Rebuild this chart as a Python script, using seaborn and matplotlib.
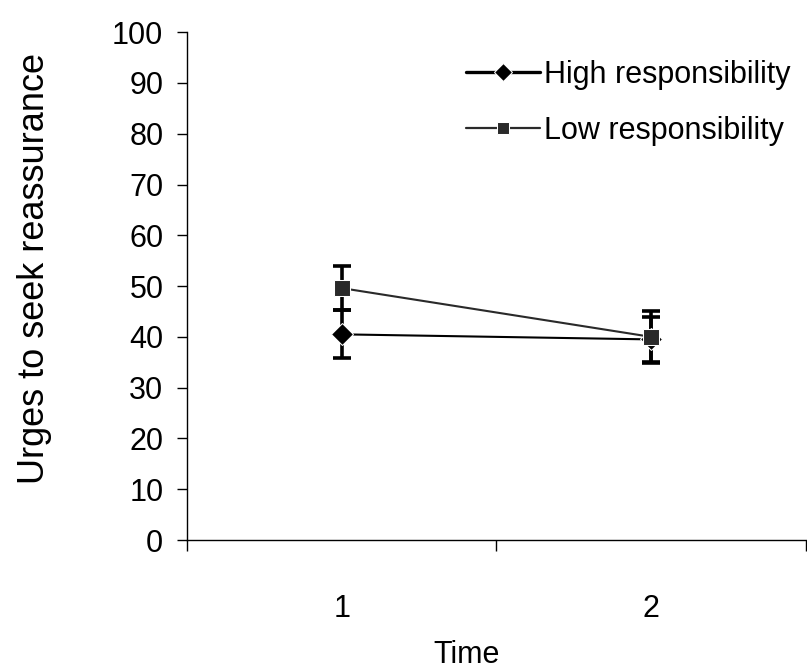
import numpy as np
import pandas as pd
import seaborn as sns
from matplotlib import pyplot as plt
from matplotlib.ticker import FixedLocator

# values
times = [1, 2]
groups = ['High responsibility', 'Low responsibility']
high_mean = [40.5, 39.5]
high_err = [4.7, 4.4]
low_mean = [49.6, 40.0]
low_err = [4.4, 5.1]

df = pd.DataFrame({
    'Time': times + times,
    'score': high_mean + low_mean,
    'err': high_err + low_err,
    'group': [groups[0]] * 2 + [groups[1]] * 2,
})

sns.set_style('ticks')
plt.rcParams['font.family'] = ['Liberation Sans', 'DejaVu Sans']
for k in ['text.color', 'axes.labelcolor', 'xtick.color', 'ytick.color']:
    plt.rcParams[k] = 'black'

fig = plt.figure(figsize=(8.07, 6.70), dpi=100)
ax = fig.add_axes([0.2317, 0.194, 0.767, 0.758])

# error bars first so the markers sit on top
for g in groups:
    sub = df[df['group'] == g]
    ax.errorbar(sub['Time'], sub['score'], yerr=sub['err'], fmt='none',
                ecolor='black', elinewidth=2.6, capsize=6.5, capthick=2.6, zorder=2)

sns.lineplot(data=df, x='Time', y='score', hue='group', style='group',
             palette=['black', '#2a2a2a'], markers={groups[0]: 'D', groups[1]: 's'},
             dashes=False, markersize=11, ax=ax, zorder=3)

# line thickness per series (high is heavier)
lines = [l for l in ax.get_lines() if len(l.get_xdata()) == 2]
lines[0].set_linewidth(2.4)
lines[1].set_linewidth(1.6)

ax.set_xlim(0.5, 2.5)
ax.set_ylim(0, 100)
ax.set_yticks(np.arange(0, 101, 10))
ax.xaxis.set_major_locator(FixedLocator(times))
ax.set_xticklabels([str(t) for t in times])
ax.xaxis.set_minor_locator(FixedLocator([0.5, 1.5, 2.5]))
ax.tick_params(axis='x', which='major', length=0, pad=39, labelsize=22)
ax.tick_params(axis='x', which='minor', length=8, width=1, direction='out')
ax.tick_params(axis='y', length=7, width=1, labelsize=22, pad=10)
sns.despine(ax=ax)
for s in ['left', 'bottom']:
    ax.spines[s].set_linewidth(1)
    ax.spines[s].set_color('black')

ax.set_xlabel('Time', fontsize=22, va='top')
ax.xaxis.set_label_coords(0.452, -0.197)
ax.set_ylabel('Urges to seek reassurance', fontsize=26)
ax.yaxis.set_label_coords(-0.218, 0.535)

leg = ax.legend(loc='upper right', bbox_to_anchor=(1.02, 1.0), frameon=False,
                fontsize=22, handlelength=2.4, handletextpad=0.15, labelspacing=0.85,
                markerscale=0.85)
for h, lw in zip(leg.get_lines(), [2.4, 1.6]):
    h.set_linewidth(lw)

fig.savefig('out.png', dpi=100)
